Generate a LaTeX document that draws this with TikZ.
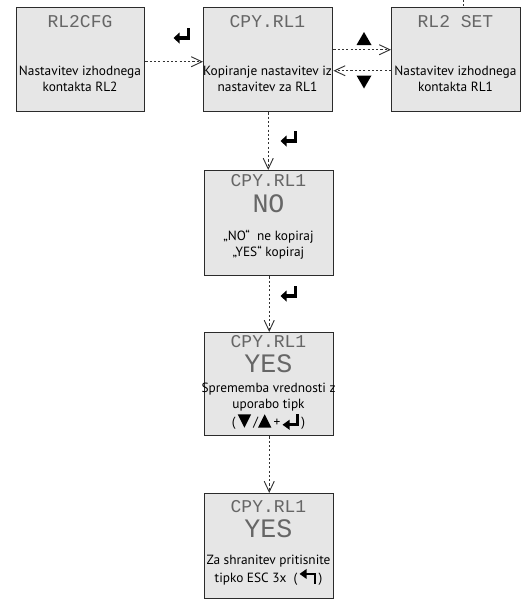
\documentclass[tikz,border=0pt]{standalone}
\usepackage{fontspec}
\setmainfont{PT Sans}
\newfontfamily\lcdfont{Liberation Mono}
\usetikzlibrary{arrows.meta,calc}
\definecolor{panelfill}{HTML}{E6E6E6}
\definecolor{paneledge}{HTML}{2B2B2B}
\definecolor{lcdgray}{HTML}{666666}
\newcommand\myTriDown{\tikz[baseline=0pt,x=1pt,y=1pt]\fill (0,9)--(10,9)--(5,-1)--cycle;}
\newcommand\myTriUp{\tikz[baseline=0pt,x=1pt,y=1pt]\fill (0,-1)--(10,-1)--(5,9)--cycle;}
\newcommand\myEnterInl{\tikz[baseline=0pt,x=1pt,y=1pt]{\fill (-6.5,1.2)--(-1.2,-2.6)--(-1.2,5)--cycle; \draw[line width=2.1pt] (-1.6,1.2)--(5,1.2)--(5,9.5);}}
\newcommand\myEscInl{\tikz[baseline=0pt,x=1pt,y=1pt]{\fill (-6.5,6.5)--(-1.2,10.3)--(-1.2,2.7)--cycle; \draw[line width=2.1pt] (-1.6,6.5)--(5,6.5)--(5,-1.2);}}
\tikzset{
  panel/.style={draw=paneledge, line width=1.1pt, fill=panelfill, anchor=north west,
    minimum width=96.75pt, minimum height=78pt, inner sep=0pt},
  lcdtitle/.style={font=\lcdfont\fontsize{13.5}{14}\selectfont, text=lcdgray, inner sep=0pt,
    text height=8.8pt, text depth=0pt},
  lcdbig/.style={font=\lcdfont\fontsize{20}{21}\selectfont, text=lcdgray, inner sep=0pt,
    text height=13pt, text depth=0pt},
  body/.style={font=\fontsize{10}{11.8}\selectfont, align=center, inner sep=0pt},
  conn/.style={draw=black!80, line width=0.7pt, dash pattern=on 1.6pt off 1.6pt,
    -{Straight Barb[length=8pt,width=7.5pt,line width=0.7pt]}},
  connplain/.style={draw=black!80, line width=0.7pt, dash pattern=on 1.6pt off 1.6pt},
  enterkey/.pic={\fill (-8.5,3) -- (-2.5,-2.5) -- (-2.5,8.5) -- cycle;
    \draw[line width=2.3pt] (-3,3) -- (6.5,3) -- (6.5,-7);},
  triup/.pic={\fill (-7.5,6.5) -- (7.5,6.5) -- (0,-6.5) -- cycle;},
  tridown/.pic={\fill (-7.5,-6.5) -- (7.5,-6.5) -- (0,6.5) -- cycle;}
}
\begin{document}
\begin{tikzpicture}[x=0.75pt,y=-0.75pt]
\useasboundingbox (0,0) rectangle (532,600);
% panels
\node[panel,minimum width=96pt] (b1) at (16,7) {};
\node[panel] (b2) at (203,7) {};
\node[panel] (b3) at (391,7) {};
\node[panel,minimum height=78.75pt] (b4) at (204,170) {};
\node[panel,minimum height=77.25pt] (b5) at (204,332) {};
\node[panel,minimum height=78.75pt] (b6) at (204,493) {};
% panel 1
\node[lcdtitle] (t1) at (80,22) {RL2CFG};
\node[body] (x1) at (80,78.5) {Nastavitev izhodnega\\kontakta RL2};
% panel 2
\node[lcdtitle] (t2) at (267.5,22) {CPY.RL1};
\node[body] (x2) at (267.5,78.5) {Kopiranje nastavitev iz\\nastavitev za RL1};
% panel 3
\node[lcdtitle] (t3) at (455.5,22) {RL2 SET};
\node[body] (x3) at (455.5,78.5) {Nastavitev izhodnega\\kontakta RL1};
% panel 4
\node[lcdtitle] (t4) at (268.5,181) {CPY.RL1};
\node[lcdbig] (v4) at (268.5,204) {NO};
\node[body] (x4) at (268.5,245) {„NO“\ \ ne kopiraj\\„YES“\ kopiraj};
% panel 5
\node[lcdtitle] (t5) at (268.5,342) {CPY.RL1};
\node[lcdbig] (v5) at (268.5,364) {YES};
\node[body,font=\fontsize{10}{11.7}\selectfont] (x5) at (268.5,406.5) {Sprememba vrednosti z\\uporabo tipk\\(\,\myTriDown\,/\myTriUp\,+\,\myEnterInl\,)};
% panel 6
\node[lcdtitle] (t6) at (268.5,507) {CPY.RL1};
\node[lcdbig] (v6) at (268.5,529) {YES};
\node[body] (x6) at (268.5,570.5) {Za shranitev pritisnite\\tipko ESC 3x\ \ (\,\myEscInl\,)};
% connectors
\draw[conn] ([yshift=-1.5pt]b1.east) -- ([yshift=-1.5pt]b1.east -| b2.west);
\draw[conn] ([yshift=7.5pt]b2.east) -- ([yshift=7.5pt]b2.east -| b3.west);
\draw[conn] ([yshift=-8.25pt]b3.west) -- ([yshift=-8.25pt]b3.west -| b2.east);
\draw[conn] (b2.south) -- (b2.south |- b4.north);
\draw[conn] (b4.south) -- (b4.south |- b5.north);
\draw[conn] (b5.south) -- (b5.south |- b6.north);
\coordinate (top3) at (463,0);
\draw[connplain] (top3) -- (top3 |- b3.north);
% key symbols
\pic at (182,35) {enterkey};
\pic at (289,138) {enterkey};
\pic at (289,293) {enterkey};
\pic at (364,38.5) {triup};
\pic at (364,82) {tridown};
\end{tikzpicture}
\end{document}
